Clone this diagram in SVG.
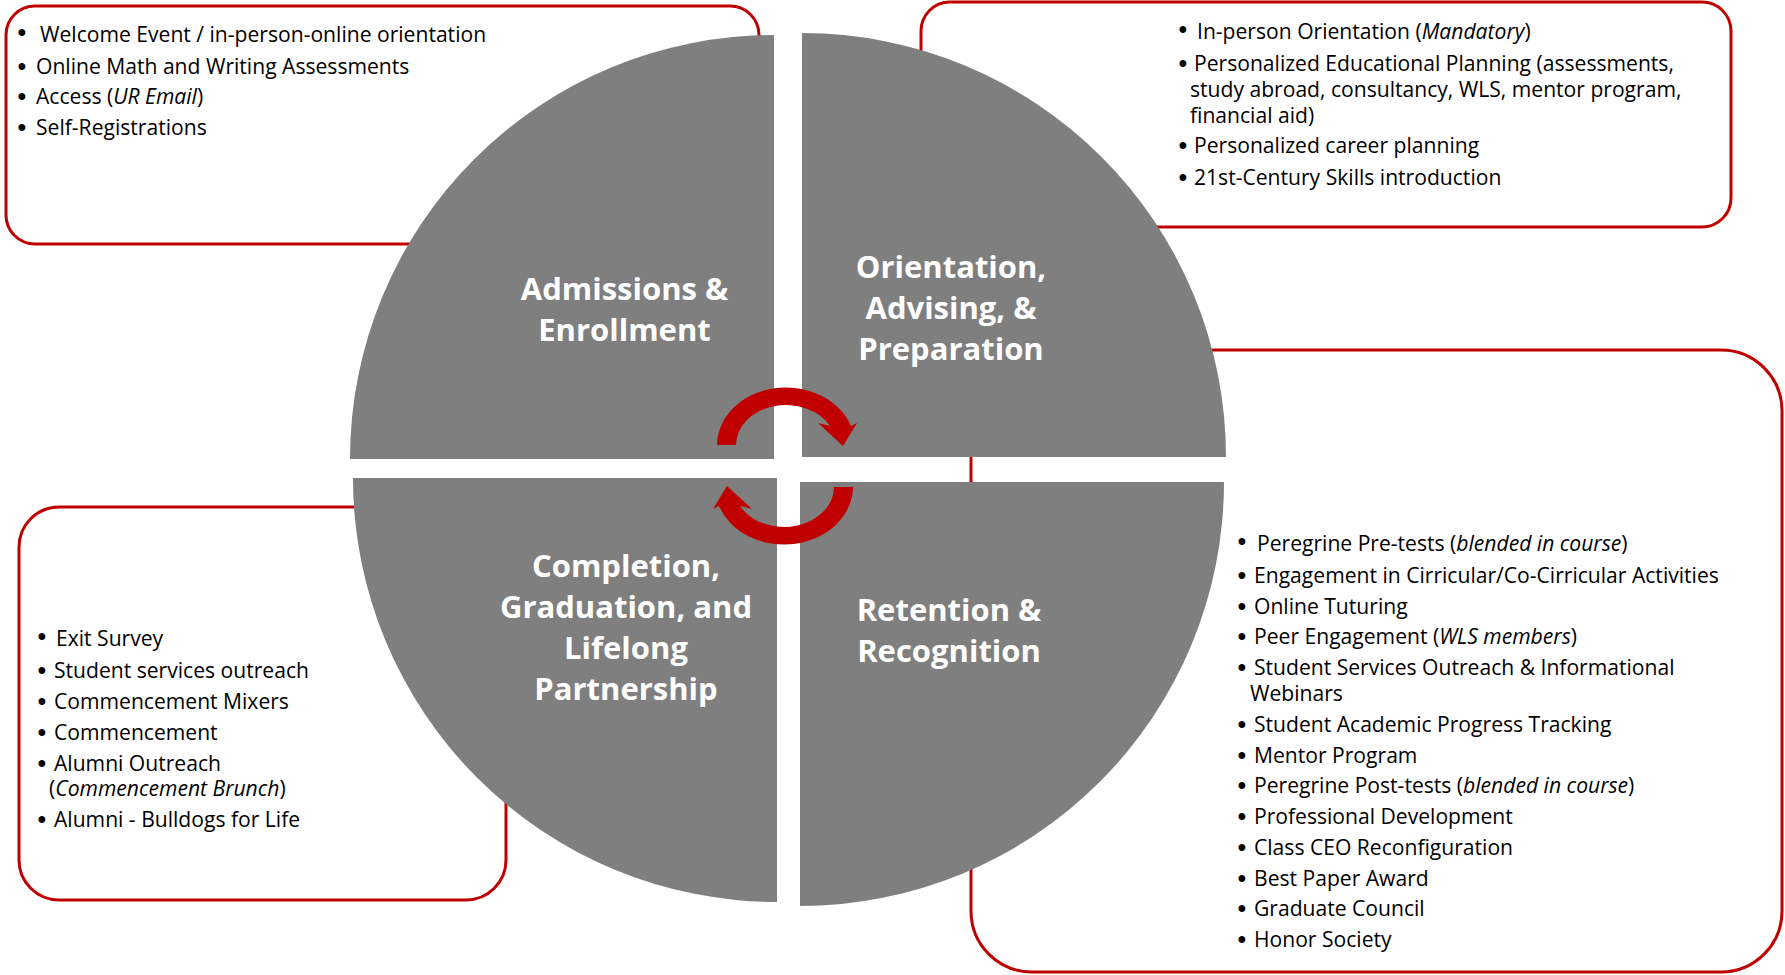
<svg xmlns="http://www.w3.org/2000/svg" xmlns:xlink="http://www.w3.org/1999/xlink" width="1785" height="975" viewBox="0 0 1785 975">
  <style>
    .box { fill: #FFFFFF; stroke: #C00000; stroke-width: 3; }
    .quad { fill: #7F7F7F; }
    .item { font-family: "Open Sans", "Liberation Sans", sans-serif; font-size: 21.1px; fill: #000000; }
    .it { font-style: italic; }
    .title { font-family: "Open Sans", "Liberation Sans", sans-serif; font-weight: 700; font-size: 31px; fill: #FFFFFF; text-anchor: middle; }
    .bul { font-family: "Liberation Sans", "Arial", sans-serif; font-size: 25px; fill: #000000; text-anchor: middle; }
    .arrow { fill: #C00000; }
  </style>
  <defs>
    <!-- curved band with arrowhead, half of the cycle symbol -->
    <path id="cycle-arrow" d="M 717 445 A 69 58 0 0 1 851 426 L 857 423 L 843 446 L 818 423 L 830 426 A 50 40 0 0 0 736 445 Z"/>
  </defs>

  <rect width="1785" height="975" fill="#FFFFFF"/>

  <!-- callout boxes (drawn under the circle) -->
  <g id="box-admissions">
    <rect class="box" x="6" y="6" width="753" height="238" rx="29" ry="29"/>
    <text class="bul" x="22" y="41">•</text>
    <text class="item" x="40" y="42">Welcome Event / in-person-online orientation</text>
    <text class="bul" x="22" y="75">•</text>
    <text class="item" x="36" y="74">Online Math and Writing Assessments</text>
    <text class="bul" x="22" y="105">•</text>
    <text class="item" x="36" y="104">Access (<tspan class="it">UR Email</tspan>)</text>
    <text class="bul" x="22" y="136">•</text>
    <text class="item" x="36" y="135">Self-Registrations</text>
  </g>

  <g id="box-orientation">
    <rect class="box" x="921" y="2" width="810" height="225" rx="29" ry="29"/>
    <text class="bul" x="1183" y="37.5">•</text>
    <text class="item" x="1197" y="38.5">In-person Orientation (<tspan class="it">Mandatory</tspan>)</text>
    <text class="bul" x="1183" y="71.5">•</text>
    <text class="item" x="1194" y="70.5">Personalized Educational Planning (assessments,</text>
    <text class="item" x="1190" y="97">study abroad, consultancy, WLS, mentor program,</text>
    <text class="item" x="1190" y="123">financial aid)</text>
    <text class="bul" x="1183" y="154">•</text>
    <text class="item" x="1194" y="153">Personalized career planning</text>
    <text class="bul" x="1183" y="185.5">•</text>
    <text class="item" x="1194" y="184.5">21st-Century Skills introduction</text>
  </g>

  <g id="box-retention">
    <rect class="box" x="971" y="350" width="811" height="622" rx="61" ry="61"/>
    <text class="bul" x="1242" y="550">•</text>
    <text class="item" x="1257" y="551">Peregrine Pre-tests (<tspan class="it">blended in course</tspan>)</text>
    <text class="bul" x="1242" y="583.5">•</text>
    <text class="item" x="1254" y="582.5">Engagement in Cirricular/Co-Cirricular Activities</text>
    <text class="bul" x="1242" y="614.5">•</text>
    <text class="item" x="1254" y="613.5">Online Tuturing</text>
    <text class="bul" x="1242" y="645">•</text>
    <text class="item" x="1254" y="644">Peer Engagement (<tspan class="it">WLS members</tspan>)</text>
    <text class="bul" x="1242" y="675.5">•</text>
    <text class="item" x="1254" y="674.5">Student Services Outreach &amp; Informational</text>
    <text class="item" x="1250" y="701">Webinars</text>
    <text class="bul" x="1242" y="733">•</text>
    <text class="item" x="1254" y="732">Student Academic Progress Tracking</text>
    <text class="bul" x="1242" y="763.5">•</text>
    <text class="item" x="1254" y="762.5">Mentor Program</text>
    <text class="bul" x="1242" y="794">•</text>
    <text class="item" x="1254" y="793">Peregrine Post-tests (<tspan class="it">blended in course</tspan>)</text>
    <text class="bul" x="1242" y="825">•</text>
    <text class="item" x="1254" y="824">Professional Development</text>
    <text class="bul" x="1242" y="855.5">•</text>
    <text class="item" x="1254" y="854.5">Class CEO Reconfiguration</text>
    <text class="bul" x="1242" y="886.5">•</text>
    <text class="item" x="1254" y="885.5">Best Paper Award</text>
    <text class="bul" x="1242" y="917">•</text>
    <text class="item" x="1254" y="916">Graduate Council</text>
    <text class="bul" x="1242" y="947.5">•</text>
    <text class="item" x="1254" y="946.5">Honor Society</text>
  </g>

  <g id="box-completion">
    <rect class="box" x="19" y="507" width="487" height="393" rx="40" ry="40"/>
    <text class="bul" x="42" y="645">•</text>
    <text class="item" x="56" y="646">Exit Survey</text>
    <text class="bul" x="42" y="679">•</text>
    <text class="item" x="54" y="678">Student services outreach</text>
    <text class="bul" x="42" y="710">•</text>
    <text class="item" x="54" y="709">Commencement Mixers</text>
    <text class="bul" x="42" y="741">•</text>
    <text class="item" x="54" y="740">Commencement</text>
    <text class="bul" x="42" y="771.5">•</text>
    <text class="item" x="54" y="770.5">Alumni Outreach</text>
    <text class="item" x="49" y="796">(<tspan class="it">Commencement Brunch</tspan>)</text>
    <text class="bul" x="42" y="828">•</text>
    <text class="item" x="54" y="827">Alumni - Bulldogs for Life</text>
  </g>

  <!-- exploded circle, one quarter per stage -->
  <g id="stage-admissions">
    <path class="quad" d="M 774 459 L 350 459 A 424 424 0 0 1 774 35 Z"/>
    <text class="title" x="624.5" y="300">Admissions &amp;</text>
    <text class="title" x="624.5" y="341">Enrollment</text>
  </g>
  <g id="stage-orientation">
    <path class="quad" d="M 802 457 L 802 33 A 424 424 0 0 1 1226 457 Z"/>
    <text class="title" x="951" y="278">Orientation,</text>
    <text class="title" x="951" y="319">Advising, &amp;</text>
    <text class="title" x="951" y="360">Preparation</text>
  </g>
  <g id="stage-completion">
    <path class="quad" d="M 777 478 L 777 902 A 424 424 0 0 1 353 478 Z"/>
    <text class="title" x="626" y="576.5">Completion,</text>
    <text class="title" x="626" y="618">Graduation, and</text>
    <text class="title" x="626" y="659">Lifelong</text>
    <text class="title" x="626" y="700">Partnership</text>
  </g>
  <g id="stage-retention">
    <path class="quad" d="M 800 482 L 1224 482 A 424 424 0 0 1 800 906 Z"/>
    <text class="title" x="949" y="621">Retention &amp;</text>
    <text class="title" x="949" y="662">Recognition</text>
  </g>

  <!-- cycle arrows in the centre -->
  <g id="connectors">
    <use class="arrow" xlink:href="#cycle-arrow" href="#cycle-arrow"/>
    <use class="arrow" xlink:href="#cycle-arrow" href="#cycle-arrow" transform="rotate(180 785 466)"/>
  </g>
</svg>
